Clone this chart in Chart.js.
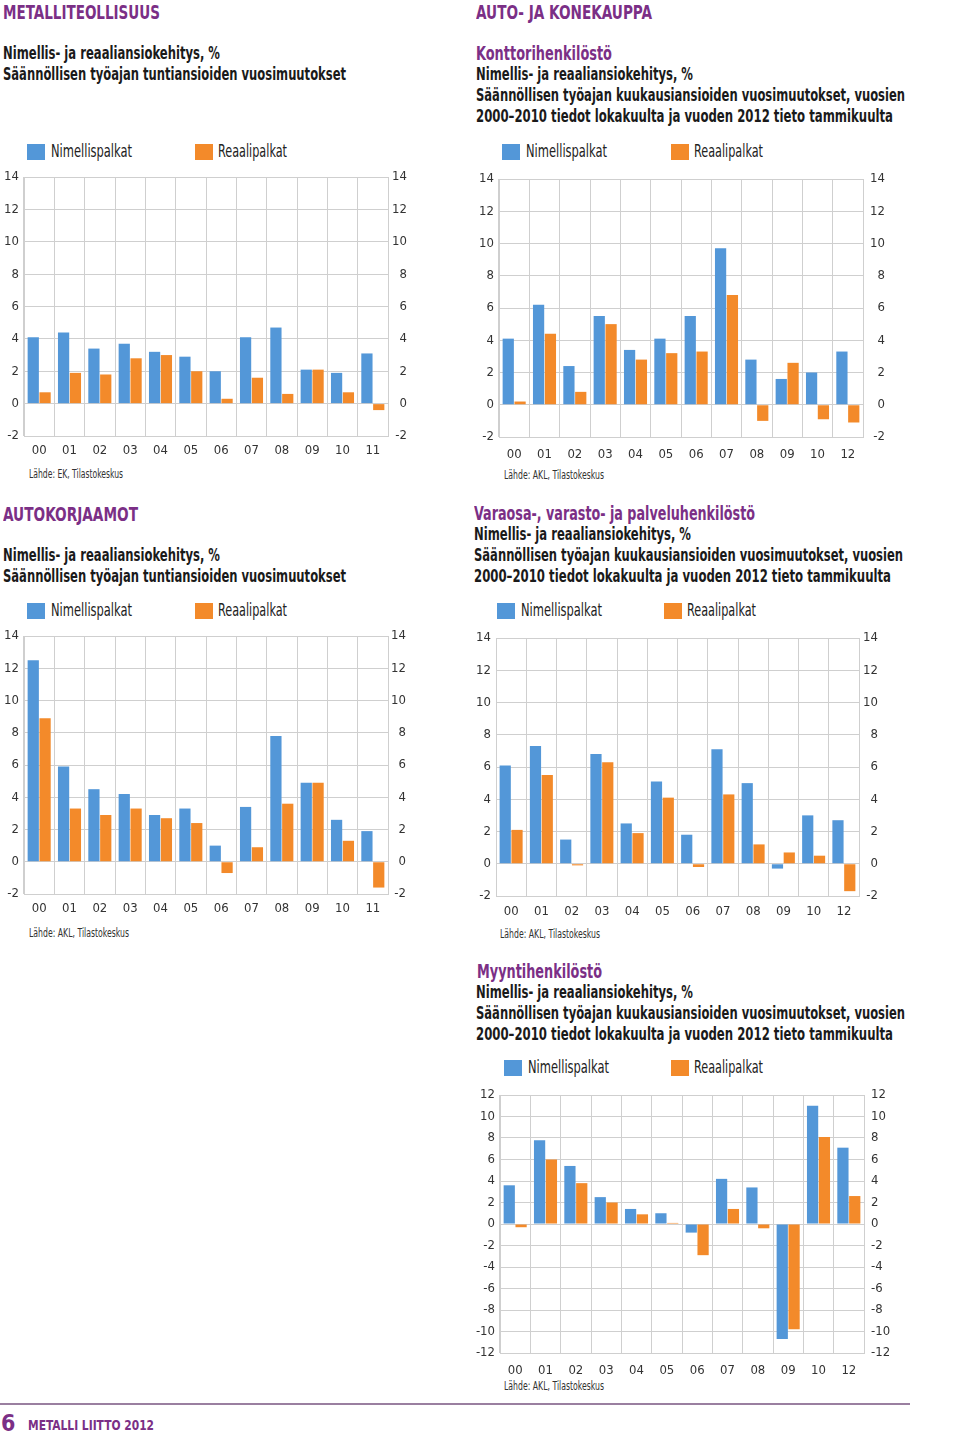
<!DOCTYPE html>
<html>
<head>
<meta charset="utf-8">
<script src="https://cdn.jsdelivr.net/npm/chart.js@4/dist/chart.umd.min.js"></script>
<style>
  html, body { margin:0; padding:0; background:#fff; }
  body { width:960px; height:1434px; position:relative; overflow:hidden;
         font-family:"Liberation Sans Narrow","DejaVu Sans Condensed","Liberation Sans",sans-serif; }
  .t { position:absolute; white-space:nowrap; line-height:1; transform-origin:left top; }
  .h1 { color:#7b2f86; font-weight:bold; font-size:20px; }
  .h2 { color:#7b2f86; font-weight:bold; font-size:19px; }
  .sub { color:#1a1a1a; font-weight:bold; font-size:17px; }
  .leg { color:#222; font-size:17px; }
  .sq { position:absolute; width:18px; height:16px; }
  .src { color:#333; font-size:13px; }
  canvas { position:absolute; }
</style>
</head>
<body>
<script>
// ---- data ----
const categoriesA = ['00','01','02','03','04','05','06','07','08','09','10','11'];
const categoriesB = ['00','01','02','03','04','05','06','07','08','09','10','12'];
const seriesNames = ['Nimellispalkat','Reaalipalkat'];

const metalliNimellis = [4.1, 4.4, 3.4, 3.7, 3.2, 2.9, 2.0, 4.1, 4.7, 2.1, 1.9, 3.1];
const metalliReaali   = [0.7, 1.9, 1.8, 2.8, 3.0, 2.0, 0.3, 1.6, 0.6, 2.1, 0.7, -0.4];

const konttoriNimellis = [4.1, 6.2, 2.4, 5.5, 3.4, 4.1, 5.5, 9.7, 2.8, 1.6, 2.0, 3.3];
const konttoriReaali   = [0.2, 4.4, 0.8, 5.0, 2.8, 3.2, 3.3, 6.8, -1.0, 2.6, -0.9, -1.1];

const korjaamoNimellis = [12.5, 5.9, 4.5, 4.2, 2.9, 3.3, 1.0, 3.4, 7.8, 4.9, 2.6, 1.9];
const korjaamoReaali   = [8.9, 3.3, 2.9, 3.3, 2.7, 2.4, -0.7, 0.9, 3.6, 4.9, 1.3, -1.6];

const varaosaNimellis = [6.1, 7.3, 1.5, 6.8, 2.5, 5.1, 1.8, 7.1, 5.0, -0.3, 3.0, 2.7];
const varaosaReaali   = [2.1, 5.5, -0.1, 6.3, 1.9, 4.1, -0.2, 4.3, 1.2, 0.7, 0.5, -1.7];

const myyntiNimellis = [3.6, 7.8, 5.4, 2.5, 1.4, 1.0, -0.8, 4.2, 3.4, -10.7, 11.0, 7.1];
const myyntiReaali   = [-0.3, 6.0, 3.8, 2.0, 0.9, 0.1, -2.9, 1.4, -0.4, -9.8, 8.1, 2.6];

const BLUE = '#5397d8';
const ORANGE = '#f38a2a';
const GRID = '#cfcfcf';
const FONT = '"Liberation Sans Narrow","DejaVu Sans Condensed","Liberation Sans",sans-serif';

function addText(cls, txt, x, y, tw) {
  const d = document.createElement('div');
  d.className = 't ' + cls; d.textContent = txt;
  d.style.left = x + 'px'; d.style.top = y + 'px';
  document.body.appendChild(d);
  if (tw) { const w = d.getBoundingClientRect().width; d.style.transform = 'scaleX(' + (tw / w) + ')'; }
  return d;
}
function addLegend(x1, x2, y) {
  const s1 = document.createElement('div'); s1.className='sq';
  s1.style.left=x1+'px'; s1.style.top=y+'px'; s1.style.background=BLUE; document.body.appendChild(s1);
  addText('leg', seriesNames[0], x1+24, y-1, 81);
  const s2 = document.createElement('div'); s2.className='sq';
  s2.style.left=x2+'px'; s2.style.top=y+'px'; s2.style.background=ORANGE; document.body.appendChild(s2);
  addText('leg', seriesNames[1], x2+23, y-1, 69);
}

function makeChart(cfg) {
  const TOPPAD = 12;
  const c = document.createElement('canvas');
  const w = cfg.leftW + (cfg.plotR - cfg.plotL) + cfg.rightW;
  const h = TOPPAD + (cfg.plotB - cfg.plotT) + cfg.xH;
  c.width = w; c.height = h;
  c.style.left = (cfg.plotL - cfg.leftW) + 'px';
  c.style.top = (cfg.plotT - TOPPAD) + 'px';
  c.style.width = w + 'px'; c.style.height = h + 'px';
  document.body.appendChild(c);
  const tickFont = { family: FONT, size: 13 };
  new Chart(c, {
    type: 'bar',
    data: {
      labels: cfg.labels,
      datasets: [
        { label: seriesNames[0], data: cfg.nom, backgroundColor: BLUE, yAxisID: 'y' },
        { label: seriesNames[1], data: cfg.real, backgroundColor: ORANGE, yAxisID: 'y' }
      ]
    },
    options: {
      responsive: false, animation: false, devicePixelRatio: 1,
      categoryPercentage: 0.78, barPercentage: 0.95,
      layout: { padding: { top: TOPPAD, left: 0, right: 0, bottom: 0 } },
      plugins: { legend: { display: false }, tooltip: { enabled: false } },
      scales: {
        x: {
          grid: { offset: true, color: GRID, drawTicks: false, lineWidth: 1 },
          border: { display: false },
          ticks: { font: tickFont, color: '#333', padding: cfg.xPad, maxRotation: 0, autoSkip: false },
          afterFit: s => { s.height = cfg.xH; }
        },
        y: {
          position: 'left', min: cfg.min, max: cfg.max,
          grid: { color: GRID, drawTicks: false },
          border: { color: GRID },
          ticks: { stepSize: 2, font: tickFont, color: '#333', padding: 5 },
          afterFit: s => { s.width = cfg.leftW; s.paddingTop = 0; s.paddingBottom = 0; }
        },
        y2: {
          position: 'right', min: cfg.min, max: cfg.max,
          grid: { display: false, drawTicks: false },
          border: { color: GRID },
          ticks: { stepSize: 2, font: tickFont, color: '#333', padding: cfg.rPad, crossAlign: cfg.rAlign },
          afterFit: s => { s.width = cfg.rightW; s.paddingTop = 0; s.paddingBottom = 0; }
        }
      }
    }
  });
}

// ---- texts ----
addText('h1', 'METALLITEOLLISUUS', 3, 2, 157);
addText('sub', 'Nimellis- ja reaaliansiokehitys, %', 3, 45, 217);
addText('sub', 'Säännöllisen työajan tuntiansioiden vuosimuutokset', 3, 66, 343);

addText('h1', 'AUTO- JA KONEKAUPPA', 476, 2, 176);
addText('h2', 'Konttorihenkilöstö', 476, 44, 136);
addText('sub', 'Nimellis- ja reaaliansiokehitys, %', 476, 66, 217);
addText('sub', 'Säännöllisen työajan kuukausiansioiden vuosimuutokset, vuosien', 476, 87, 429);
addText('sub', '2000–2010 tiedot lokakuulta ja vuoden 2012 tieto tammikuulta', 476, 108, 417);

addText('h1', 'AUTOKORJAAMOT', 3, 504, 135);
addText('sub', 'Nimellis- ja reaaliansiokehitys, %', 3, 547, 217);
addText('sub', 'Säännöllisen työajan tuntiansioiden vuosimuutokset', 3, 568, 343);

addText('h2', 'Varaosa-, varasto- ja palveluhenkilöstö', 474, 504, 281);
addText('sub', 'Nimellis- ja reaaliansiokehitys, %', 474, 526, 217);
addText('sub', 'Säännöllisen työajan kuukausiansioiden vuosimuutokset, vuosien', 474, 547, 429);
addText('sub', '2000–2010 tiedot lokakuulta ja vuoden 2012 tieto tammikuulta', 474, 568, 417);

addText('h2', 'Myyntihenkilöstö', 477, 962, 125);
addText('sub', 'Nimellis- ja reaaliansiokehitys, %', 476, 984, 217);
addText('sub', 'Säännöllisen työajan kuukausiansioiden vuosimuutokset, vuosien', 476, 1005, 429);
addText('sub', '2000–2010 tiedot lokakuulta ja vuoden 2012 tieto tammikuulta', 476, 1026, 417);

addLegend(27, 195, 144);
addLegend(502, 671, 144);
addLegend(27, 195, 603);
addLegend(497, 664, 603);
addLegend(504, 671, 1060);

addText('src', 'Lähde: EK, Tilastokeskus', 29, 467, 94);
addText('src', 'Lähde: AKL, Tilastokeskus', 504, 468, 100);
addText('src', 'Lähde: AKL, Tilastokeskus', 29, 926, 100);
addText('src', 'Lähde: AKL, Tilastokeskus', 500, 927, 100);
addText('src', 'Lähde: AKL, Tilastokeskus', 504, 1379, 100);

// footer
const line = document.createElement('div');
line.style.cssText = 'position:absolute;left:0;top:1403px;width:910px;height:2px;background:#9a7fa0;';
document.body.appendChild(line);
const six = addText('', '6', 1, 1412);
six.style.cssText += 'font-size:23px;font-weight:bold;color:#7b2f86;';
const ft = addText('', 'METALLI LIITTO 2012', 28, 1418);
ft.style.cssText += 'font-size:14px;font-weight:bold;color:#7b2f86;';
ft.style.transform = 'scaleX(' + (126 / ft.getBoundingClientRect().width) + ')';

// ---- charts ----
makeChart({ labels: categoriesA, nom: metalliNimellis, real: metalliReaali, min: -2, max: 14,
  plotL: 24, plotR: 388, plotT: 177, plotB: 436, leftW: 24, rightW: 19, xH: 26, xPad: 7, rPad: 3, rAlign: 'far' });
makeChart({ labels: categoriesB, nom: konttoriNimellis, real: konttoriReaali, min: -2, max: 14,
  plotL: 499, plotR: 863, plotT: 179, plotB: 437, leftW: 30, rightW: 22, xH: 28, xPad: 10, rPad: 4, rAlign: 'far' });
makeChart({ labels: categoriesA, nom: korjaamoNimellis, real: korjaamoReaali, min: -2, max: 14,
  plotL: 24, plotR: 388, plotT: 636, plotB: 894, leftW: 24, rightW: 18, xH: 26, xPad: 7, rPad: 2, rAlign: 'far' });
makeChart({ labels: categoriesB, nom: varaosaNimellis, real: varaosaReaali, min: -2, max: 14,
  plotL: 496, plotR: 859, plotT: 638, plotB: 896, leftW: 28, rightW: 19, xH: 26, xPad: 8, rPad: 3, rAlign: 'far' });
makeChart({ labels: categoriesB, nom: myyntiNimellis, real: myyntiReaali, min: -12, max: 12,
  plotL: 500, plotR: 864, plotT: 1095, plotB: 1353, leftW: 32, rightW: 34, xH: 28, xPad: 10, rPad: 7, rAlign: 'near' });
</script>
</body>
</html>
